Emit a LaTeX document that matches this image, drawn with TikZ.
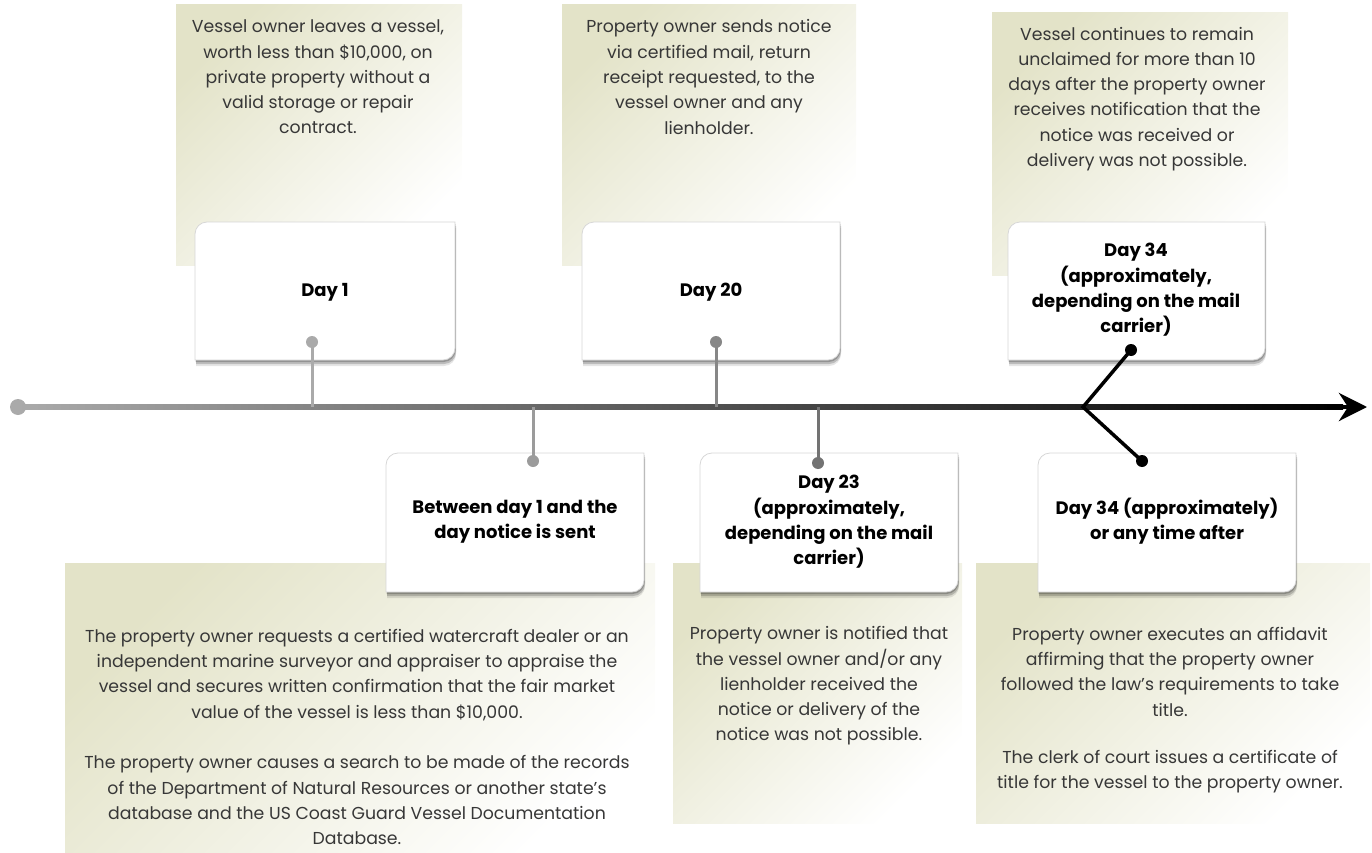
\documentclass[tikz,border=0pt]{standalone}
\usepackage{fontspec}
\setmainfont{Poppins}
\usetikzlibrary{arrows.meta,calc}
\definecolor{olv}{RGB}{227,227,200}
\definecolor{txt}{RGB}{55,55,55}
\definecolor{cardline}{RGB}{215,215,215}
\definecolor{cA}{RGB}{170,170,170}
\definecolor{cB}{RGB}{155,155,155}
\definecolor{cC}{RGB}{135,135,135}
\definecolor{cD}{RGB}{115,115,115}
\newcommand\cardpath[4]{(#1,-#4) -- (#1,-#2-12) arc[start angle=180,end angle=90,radius=12pt] -- (#3,-#2) -- (#3,-#4+12) arc[start angle=0,end angle=-90,radius=12pt] -- cycle}
\newcommand\mycard[4]{%
  \fill[black,opacity=.10] [xshift=1pt,yshift=-6pt] \cardpath{#1}{#2}{#3}{#4};
  \fill[black,opacity=.18] [xshift=1pt,yshift=-4pt] \cardpath{#1}{#2}{#3}{#4};
  \fill[black,opacity=.22] [xshift=0.5pt,yshift=-2pt] \cardpath{#1}{#2}{#3}{#4};
  \filldraw[fill=white,draw=cardline,line width=0.8pt] \cardpath{#1}{#2}{#3}{#4};
}
\tikzset{
  panel/.style={top color=olv,bottom color=white,shading angle=45},
  bodytxt/.style={text=txt,align=center,inner sep=0pt,font=\fontsize{17.3}{25.3}\selectfont},
  cardtxt/.style={text=black,align=center,inner sep=0pt,font=\bfseries\fontsize{18}{25.3}\selectfont},
  dot/.style={circle,inner sep=0pt,minimum size=12pt},
  conn/.style={line width=3pt},
}
\begin{document}
\begin{tikzpicture}[x=1pt,y=1pt]
\useasboundingbox (0,0) rectangle (1372,-853);
% panels
\shade[panel] (176,-5) rectangle (462,-265);
\shade[panel] (562,-5) rectangle (856,-265);
\shade[panel] (992,-13) rectangle (1288,-275);
\shade[panel] (65,-563) rectangle (655,-853);
\shade[panel] (673,-563) rectangle (962,-823);
\shade[panel] (976,-563) rectangle (1370,-823);
% panel texts
\node[bodytxt] (p1) at (318,-77) {Vessel owner leaves a vessel,\\worth less than \$10,000, on\\private property without a\\valid storage or repair\\contract.};
\node[bodytxt] (p2) at (709,-77) {Property owner sends notice\\via certified mail, return\\receipt requested, to the\\vessel owner and any\\lienholder.};
\node[bodytxt] (p3) at (1137,-99) {Vessel continues to remain\\unclaimed for more than 10\\days after the property owner\\receives notification that the\\notice was received or\\delivery was not possible.};
\node[bodytxt] (p4) at (357,-737) {The property owner requests a certified watercraft dealer or an\\independent marine surveyor and appraiser to appraise the\\vessel and secures written confirmation that the fair market\\value of the vessel is less than \$10,000.\\[25.3pt]The property owner causes a search to be made of the records\\of the Department of Natural Resources or another state's\\database and the US Coast Guard Vessel Documentation\\Database.};
\node[bodytxt] (p5) at (819,-686) {Property owner is notified that\\the vessel owner and/or any\\lienholder received the\\notice or delivery of the\\notice was not possible.};
\node[bodytxt] (p6) at (1170,-710) {Property owner executes an affidavit\\affirming that the property owner\\followed the law's requirements to take\\title.\\[22pt]The clerk of court issues a certificate of\\title for the vessel to the property owner.};
% cards
\mycard{195}{222}{455}{360}
\mycard{582}{222}{840}{360}
\mycard{1008}{222}{1265}{360}
\mycard{386}{453}{644}{592}
\mycard{700}{453}{958}{592}
\mycard{1038}{453}{1296}{592}
\node[cardtxt] (k1) at (325,-292) {Day 1};
\node[cardtxt] (k2) at (711,-292) {Day 20};
\node[cardtxt] (k3) at (1136,-290) {Day 34\\(approximately,\\depending on the mail\\carrier)};
\node[cardtxt] (k4) at (515,-522) {Between day 1 and the\\day notice is sent};
\node[cardtxt] (k5) at (829,-522) {Day 23\\(approximately,\\depending on the mail\\carrier)};
\node[cardtxt] (k6) at (1167,-521) {Day 34 (approximately)\\or any time after};
% timeline
\node[circle,inner sep=0pt,minimum size=16pt,fill=cA] (start) at (18,-407) {};
\coordinate (tip) at (1367,-407);
\shade[left color=cA,middle color=cD,right color=black] ($(start.center)+(0,2.2)$) rectangle ($(tip)+(-24,-2.2)$);
\draw[line width=4.4pt,black,-{Stealth[length=28pt,width=28pt,inset=9pt]}] ($(tip)+(-40,0)$) -- (tip);
% connectors
\coordinate (j1) at (312,-407);
\coordinate (j2) at (533,-407);
\coordinate (j3) at (716,-407);
\coordinate (j4) at (818,-407);
\coordinate (j5) at (1083,-407);
\node[dot,fill=cA] (d1) at (312,-342) {};
\node[dot,fill=cB] (d2) at (533,-461) {};
\node[dot,fill=cC] (d3) at (716,-342) {};
\node[dot,fill=cD] (d4) at (818,-463) {};
\node[dot,fill=black] (d5) at (1131,-350) {};
\node[dot,fill=black] (d6) at (1142,-461) {};
\draw[conn,cA] (d1.center) -- (j1);
\draw[conn,cB] (j2) -- (d2.center);
\draw[conn,cC] (d3.center) -- (j3);
\draw[conn,cD] (j4) -- (d4.center);
\draw[conn,black,line width=3.5pt,line join=miter] (d5.center) -- (j5) -- (d6.center);
\end{tikzpicture}
\end{document}
